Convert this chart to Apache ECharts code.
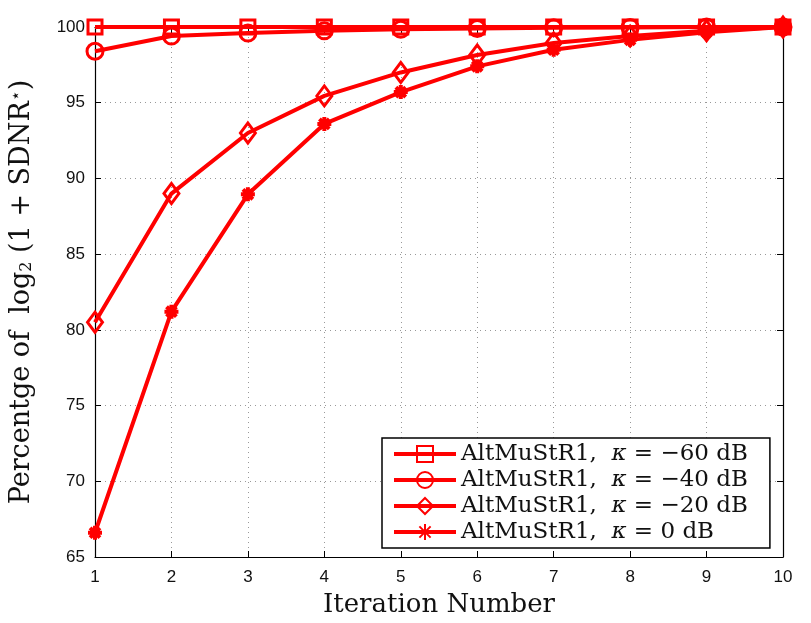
<!DOCTYPE html>
<html>
<head>
<meta charset="utf-8">
<script src="https://cdn.jsdelivr.net/npm/echarts@6/dist/echarts.min.js"></script>
<style>
  html, body { margin: 0; padding: 0; background: #fff; }
  #chart { width: 811px; height: 623px; }
</style>
</head>
<body>
<div id="chart"></div>
<script>
// iteration index on the x axis
const iterations = [1, 2, 3, 4, 5, 6, 7, 8, 9, 10];

// percentage values
const kappaM60 = [100, 100, 100, 100, 100, 100, 100, 100, 100, 100];
const kappaM40 = [98.4, 99.4, 99.6, 99.75, 99.85, 99.9, 99.95, 99.97, 100, 100];
const kappaM20 = [80.5, 89.0, 93.0, 95.45, 97.0, 98.15, 98.95, 99.4, 99.75, 100];
const kappa0 = [66.6, 81.2, 88.95, 93.6, 95.7, 97.4, 98.5, 99.15, 99.65, 100];

const seriesNames = ['−60', '−40', '−20', '0'];
const yTicks = [65, 70, 75, 80, 85, 90, 95, 100];

const asterisk = 'path://M0,-10L0,10M-10,0L10,0M-7,-7L7,7M-7,7L7,-7';

const chart = echarts.init(document.getElementById('chart'));

function mkSeries(name, values, symbol, size, bw) {
  return {
    name: name,
    type: 'line',
    data: iterations.map((x, i) => [x, values[i]]),
    symbol: symbol,
    symbolSize: size,
    lineStyle: { color: '#ff0000', width: 4 },
    itemStyle: { color: 'rgba(255,255,255,0)', borderColor: '#ff0000', borderWidth: bw },
    emphasis: { disabled: true },
    z: 3
  };
}

const serif = '"DejaVu Serif", "Liberation Serif", serif';
const sans = '"Liberation Sans", Arial, sans-serif';

const option = {
  animation: false,
  grid: { left: 95, right: 28, top: 27, bottom: 63 },
  xAxis: [{
    type: 'value',
    min: 1, max: 10, interval: 1,
    name: 'Iteration Number',
    nameLocation: 'middle',
    nameGap: 35,
    nameTextStyle: { fontFamily: serif, fontSize: 26, color: '#111' },
    axisLine: { lineStyle: { color: '#000', width: 1.2 } },
    axisTick: { inside: true, length: 6, lineStyle: { color: '#000' } },
    axisLabel: { fontFamily: sans, fontSize: 17, color: '#111', margin: 12 },
    splitLine: { show: true, lineStyle: { color: '#999', type: [1, 4], width: 1 } }
  }, {
    type: 'value', position: 'top',
    min: 1, max: 10, interval: 1,
    axisLine: { onZero: false, lineStyle: { color: '#000', width: 1.2 } },
    axisTick: { inside: true, length: 6, lineStyle: { color: '#000' } },
    axisLabel: { show: false },
    splitLine: { show: false }
  }],
  yAxis: [{
    type: 'value',
    min: yTicks[0], max: yTicks[yTicks.length - 1], interval: 5,
    name: '{t|Percentge of  log}{s|2}{t| (1 + SDNR}{p|⋆}{t|)}',
    nameLocation: 'middle',
    nameGap: 60,
    nameTextStyle: {
      rich: {
        t: { fontFamily: serif, fontSize: 27, color: '#111' },
        s: { fontFamily: serif, fontSize: 16, color: '#111', verticalAlign: 'bottom', padding: [10, 0, 0, 0] },
        p: { fontFamily: serif, fontSize: 17, color: '#111', verticalAlign: 'top', padding: [0, 0, 10, 0] }
      }
    },
    axisLine: { show: true, lineStyle: { color: '#000', width: 1.2 } },
    axisTick: { show: true, inside: true, length: 6, lineStyle: { color: '#000' } },
    axisLabel: { fontFamily: sans, fontSize: 17, color: '#111', margin: 10 },
    splitLine: { show: true, lineStyle: { color: '#999', type: [1, 4], width: 1 } }
  }, {
    type: 'value', position: 'right',
    min: yTicks[0], max: yTicks[yTicks.length - 1], interval: 5,
    axisLine: { show: true, onZero: false, lineStyle: { color: '#000', width: 1.2 } },
    axisTick: { show: true, inside: true, length: 6, lineStyle: { color: '#000' } },
    axisLabel: { show: false },
    splitLine: { show: false }
  }],
  legend: {
    orient: 'vertical',
    left: 382, top: 438,
    padding: [4, 22, 4, 10],
    itemGap: 2,
    itemWidth: 62,
    itemHeight: 20,
    backgroundColor: '#fff',
    borderColor: '#000',
    borderWidth: 1.5,
    selectedMode: false,
    lineStyle: { width: 4 },
    formatter: function (name) {
      return 'AltMuStR1,  {k|κ} = ' + name + ' dB';
    },
    textStyle: {
      fontFamily: serif, fontSize: 23, color: '#111', lineHeight: 24,
      rich: { k: { fontFamily: serif, fontSize: 23, fontStyle: 'italic', color: '#111', lineHeight: 24 } }
    },
    data: seriesNames
  },
  series: [
    mkSeries(seriesNames[0], kappaM60, 'rect', 14, 3),
    mkSeries(seriesNames[1], kappaM40, 'circle', 16, 3),
    mkSeries(seriesNames[2], kappaM20, 'diamond', [15, 20], 3),
    mkSeries(seriesNames[3], kappa0, asterisk, 14, 4)
  ]
};

chart.setOption(option);
</script>
</body>
</html>
